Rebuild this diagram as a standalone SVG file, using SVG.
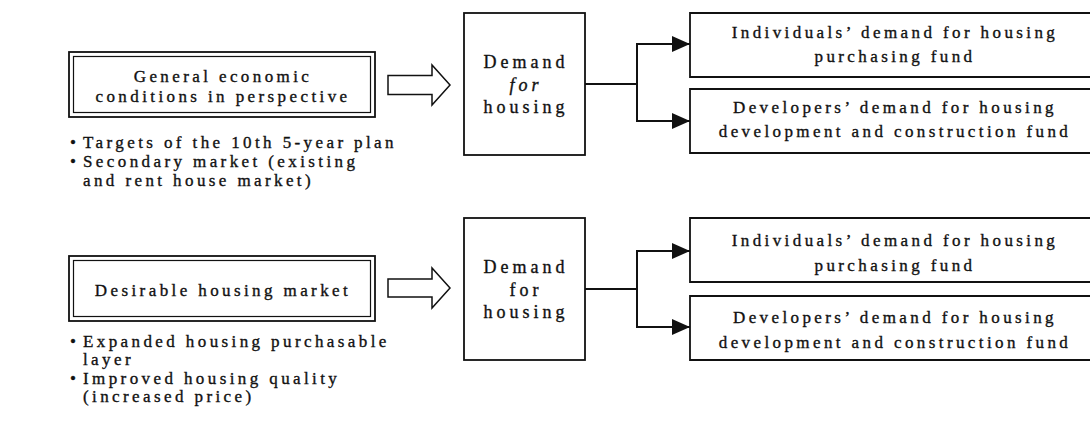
<svg xmlns="http://www.w3.org/2000/svg" width="1090" height="426" viewBox="0 0 1090 426">
  <style>
    text { font-family: "Liberation Serif", "Times New Roman", "DejaVu Serif", serif; font-size: 17px; fill: #111; stroke: #111; stroke-width: 0.35; letter-spacing: 3.4px; }
    .c { text-anchor: middle; }
    .dm { font-size: 18px; letter-spacing: 4px; }
    .box { fill: #fff; stroke: #111; stroke-width: 1.8; }
    .inner { fill: none; stroke: #111; stroke-width: 1.2; }
    .open { fill: none; stroke: #111; stroke-width: 1.8; }
    .hollow { fill: #fff; stroke: #111; stroke-width: 1.5; stroke-linejoin: miter; }
    .wire { fill: none; stroke: #111; stroke-width: 2; }
  </style>
  <defs>
    <marker id="head" viewBox="0 0 18 16" refX="18" refY="8" markerWidth="18" markerHeight="16" markerUnits="userSpaceOnUse" orient="auto">
      <path d="M0,0 L18,8 L0,16 Z" fill="#111"/>
    </marker>
  </defs>
  <rect width="1090" height="426" fill="#fff"/>

  <!-- upper row -->
  <g id="general-conditions">
    <rect class="box" x="69" y="52" width="306" height="65"/>
    <rect class="inner" x="73.5" y="56.5" width="297" height="56"/>
    <text class="c" x="223" y="82">General economic</text>
    <text class="c" x="223" y="102">conditions in perspective</text>
  </g>
  <g id="general-notes">
    <text x="70" y="148">•</text><text x="83" y="148">Targets of the 10th 5-year plan</text>
    <text x="70" y="167">•</text><text x="83" y="167">Secondary market (existing</text>
    <text x="83" y="186">and rent house market)</text>
  </g>
  <g id="arrow-upper">
    <path class="hollow" d="M388,75.5 H432 V65 L450,85 L432,105 V94.5 H388 Z"/>
  </g>
  <g id="demand-upper">
    <rect class="box" x="464" y="13" width="121" height="142"/>
    <text class="c dm" x="526" y="68">Demand</text>
    <text class="c dm" x="526" y="91" font-style="italic">for</text>
    <text class="c dm" x="526" y="113">housing</text>
  </g>
  <g id="individuals-upper">
    <path class="open" d="M1090,13 H690 V77 H1090"/>
    <text class="c" x="895" y="38">Individuals’ demand for housing</text>
    <text class="c" x="895" y="62">purchasing fund</text>
  </g>
  <g id="developers-upper">
    <path class="open" d="M1090,89 H690 V153 H1090"/>
    <text class="c" x="895" y="113">Developers’ demand for housing</text>
    <text class="c" x="895" y="137">development and construction fund</text>
  </g>

  <!-- lower row -->
  <g id="desirable-market">
    <rect class="box" x="69" y="256" width="306" height="65"/>
    <rect class="inner" x="73.5" y="260.5" width="297" height="56"/>
    <text class="c" x="223" y="296">Desirable housing market</text>
  </g>
  <g id="desirable-notes">
    <text x="70" y="347">•</text><text x="83" y="347">Expanded housing purchasable</text>
    <text x="83" y="365">layer</text>
    <text x="70" y="384">•</text><text x="83" y="384">Improved housing quality</text>
    <text x="83" y="402">(increased price)</text>
  </g>
  <g id="arrow-lower">
    <path class="hollow" d="M388,279 H432 V268 L450,288 L432,308 V297 H388 Z"/>
  </g>
  <g id="demand-lower">
    <rect class="box" x="464" y="218" width="121" height="142"/>
    <text class="c dm" x="526" y="273">Demand</text>
    <text class="c dm" x="526" y="296">for</text>
    <text class="c dm" x="526" y="318">housing</text>
  </g>
  <g id="individuals-lower">
    <path class="open" d="M1090,218 H690 V282 H1090"/>
    <text class="c" x="895" y="246">Individuals’ demand for housing</text>
    <text class="c" x="895" y="271">purchasing fund</text>
  </g>
  <g id="developers-lower">
    <path class="open" d="M1090,296 H690 V360 H1090"/>
    <text class="c" x="895" y="323">Developers’ demand for housing</text>
    <text class="c" x="895" y="348">development and construction fund</text>
  </g>

  <!-- connectors -->
  <g id="connectors">
    <path class="wire" d="M585,84 H637"/>
    <path class="wire" d="M637,121 V44 H690" marker-end="url(#head)"/>
    <path class="wire" d="M637,84 V121 H690" marker-end="url(#head)"/>
    <path class="wire" d="M585,289 H637"/>
    <path class="wire" d="M637,327 V251 H690" marker-end="url(#head)"/>
    <path class="wire" d="M637,289 V327 H690" marker-end="url(#head)"/>
  </g>
</svg>
